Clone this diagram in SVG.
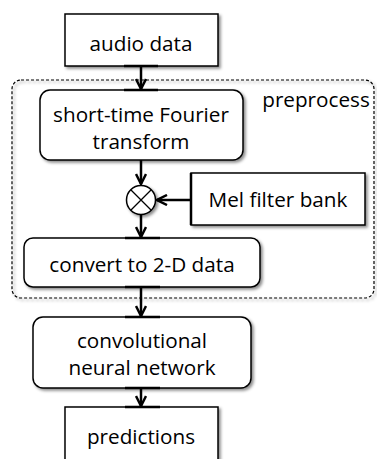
<svg xmlns="http://www.w3.org/2000/svg" width="377" height="459" viewBox="0 0 377 459">
<defs>
<filter id="sh" x="-10%" y="-10%" width="130%" height="140%">
<feDropShadow dx="2" dy="2" stdDeviation="1.5" flood-color="#000" flood-opacity="0.45"/>
</filter>
<marker id="ah" viewBox="0 0 10 10" refX="9" refY="5" markerWidth="5" markerHeight="5" orient="auto" markerUnits="strokeWidth">
<path d="M1,1 L9,5 L1,9" fill="none" stroke="#000" stroke-width="2"/>
</marker>
</defs>
<style>
.box{fill:#fff;stroke:#000;stroke-width:1.5;filter:url(#sh)}
.t{font-family:"Open Sans","Liberation Sans",Arial,sans-serif;font-size:20.7px;fill:#000;text-anchor:middle}
.c{stroke:#000;stroke-width:2.5;fill:none}
.bar{stroke:#000;stroke-width:2.5}
</style>
<rect width="377" height="459" fill="#fff"/>
<g id="preprocess">
<rect x="12" y="80" width="362" height="218" rx="9" fill="none" stroke="#000" stroke-width="1.2" stroke-dasharray="3,2" filter="url(#sh)"/>
<text class="t" x="316" y="107">preprocess</text>
</g>
<g id="audio">
<rect class="box" x="65" y="14" width="153" height="52"/>
<text class="t" x="141" y="51">audio data</text>
</g>
<g id="stft">
<rect class="box" x="40" y="90" width="203" height="70" rx="10"/>
<text class="t" x="141" y="122">short-time Fourier</text>
<text class="t" x="141" y="149">transform</text>
</g>
<g id="mult">
<circle cx="141" cy="200" r="14.5" fill="#fff" stroke="#000" stroke-width="1.5" filter="url(#sh)"/>
<path d="M131,190 L151,210 M151,190 L131,210" stroke="#000" stroke-width="1.3"/>
</g>
<g id="mel">
<rect class="box" x="191" y="173" width="174" height="52"/>
<text class="t" x="278" y="207">Mel filter bank</text>
</g>
<g id="convert">
<rect class="box" x="24" y="238" width="236" height="49" rx="9"/>
<text class="t" x="142" y="272">convert to 2-D data</text>
</g>
<g id="cnn">
<rect class="box" x="33" y="317" width="218" height="71" rx="10"/>
<text class="t" x="142" y="348">convolutional</text>
<text class="t" x="142" y="375">neural network</text>
</g>
<g id="predictions">
<rect class="box" x="65" y="407" width="153" height="60"/>
<text class="t" x="141" y="444">predictions</text>
</g>
<g id="connectors">
<line class="c" x1="141" y1="66" x2="141" y2="89" marker-end="url(#ah)"/>
<line class="c" x1="141" y1="160" x2="141" y2="184" marker-end="url(#ah)"/>
<line class="c" x1="191" y1="200" x2="157" y2="200" marker-end="url(#ah)"/>
<line class="c" x1="141" y1="215" x2="141" y2="237" marker-end="url(#ah)"/>
<line class="c" x1="141" y1="287" x2="141" y2="316" marker-end="url(#ah)"/>
<line class="c" x1="141" y1="388" x2="141" y2="406" marker-end="url(#ah)"/>
<path class="bar" d="M124,66 H158 M124,90 H158 M125,238 H160 M125,287 H160 M125,317 H160 M125,388 H160 M125,407 H160 M191,173 V225"/>
</g>
</svg>
